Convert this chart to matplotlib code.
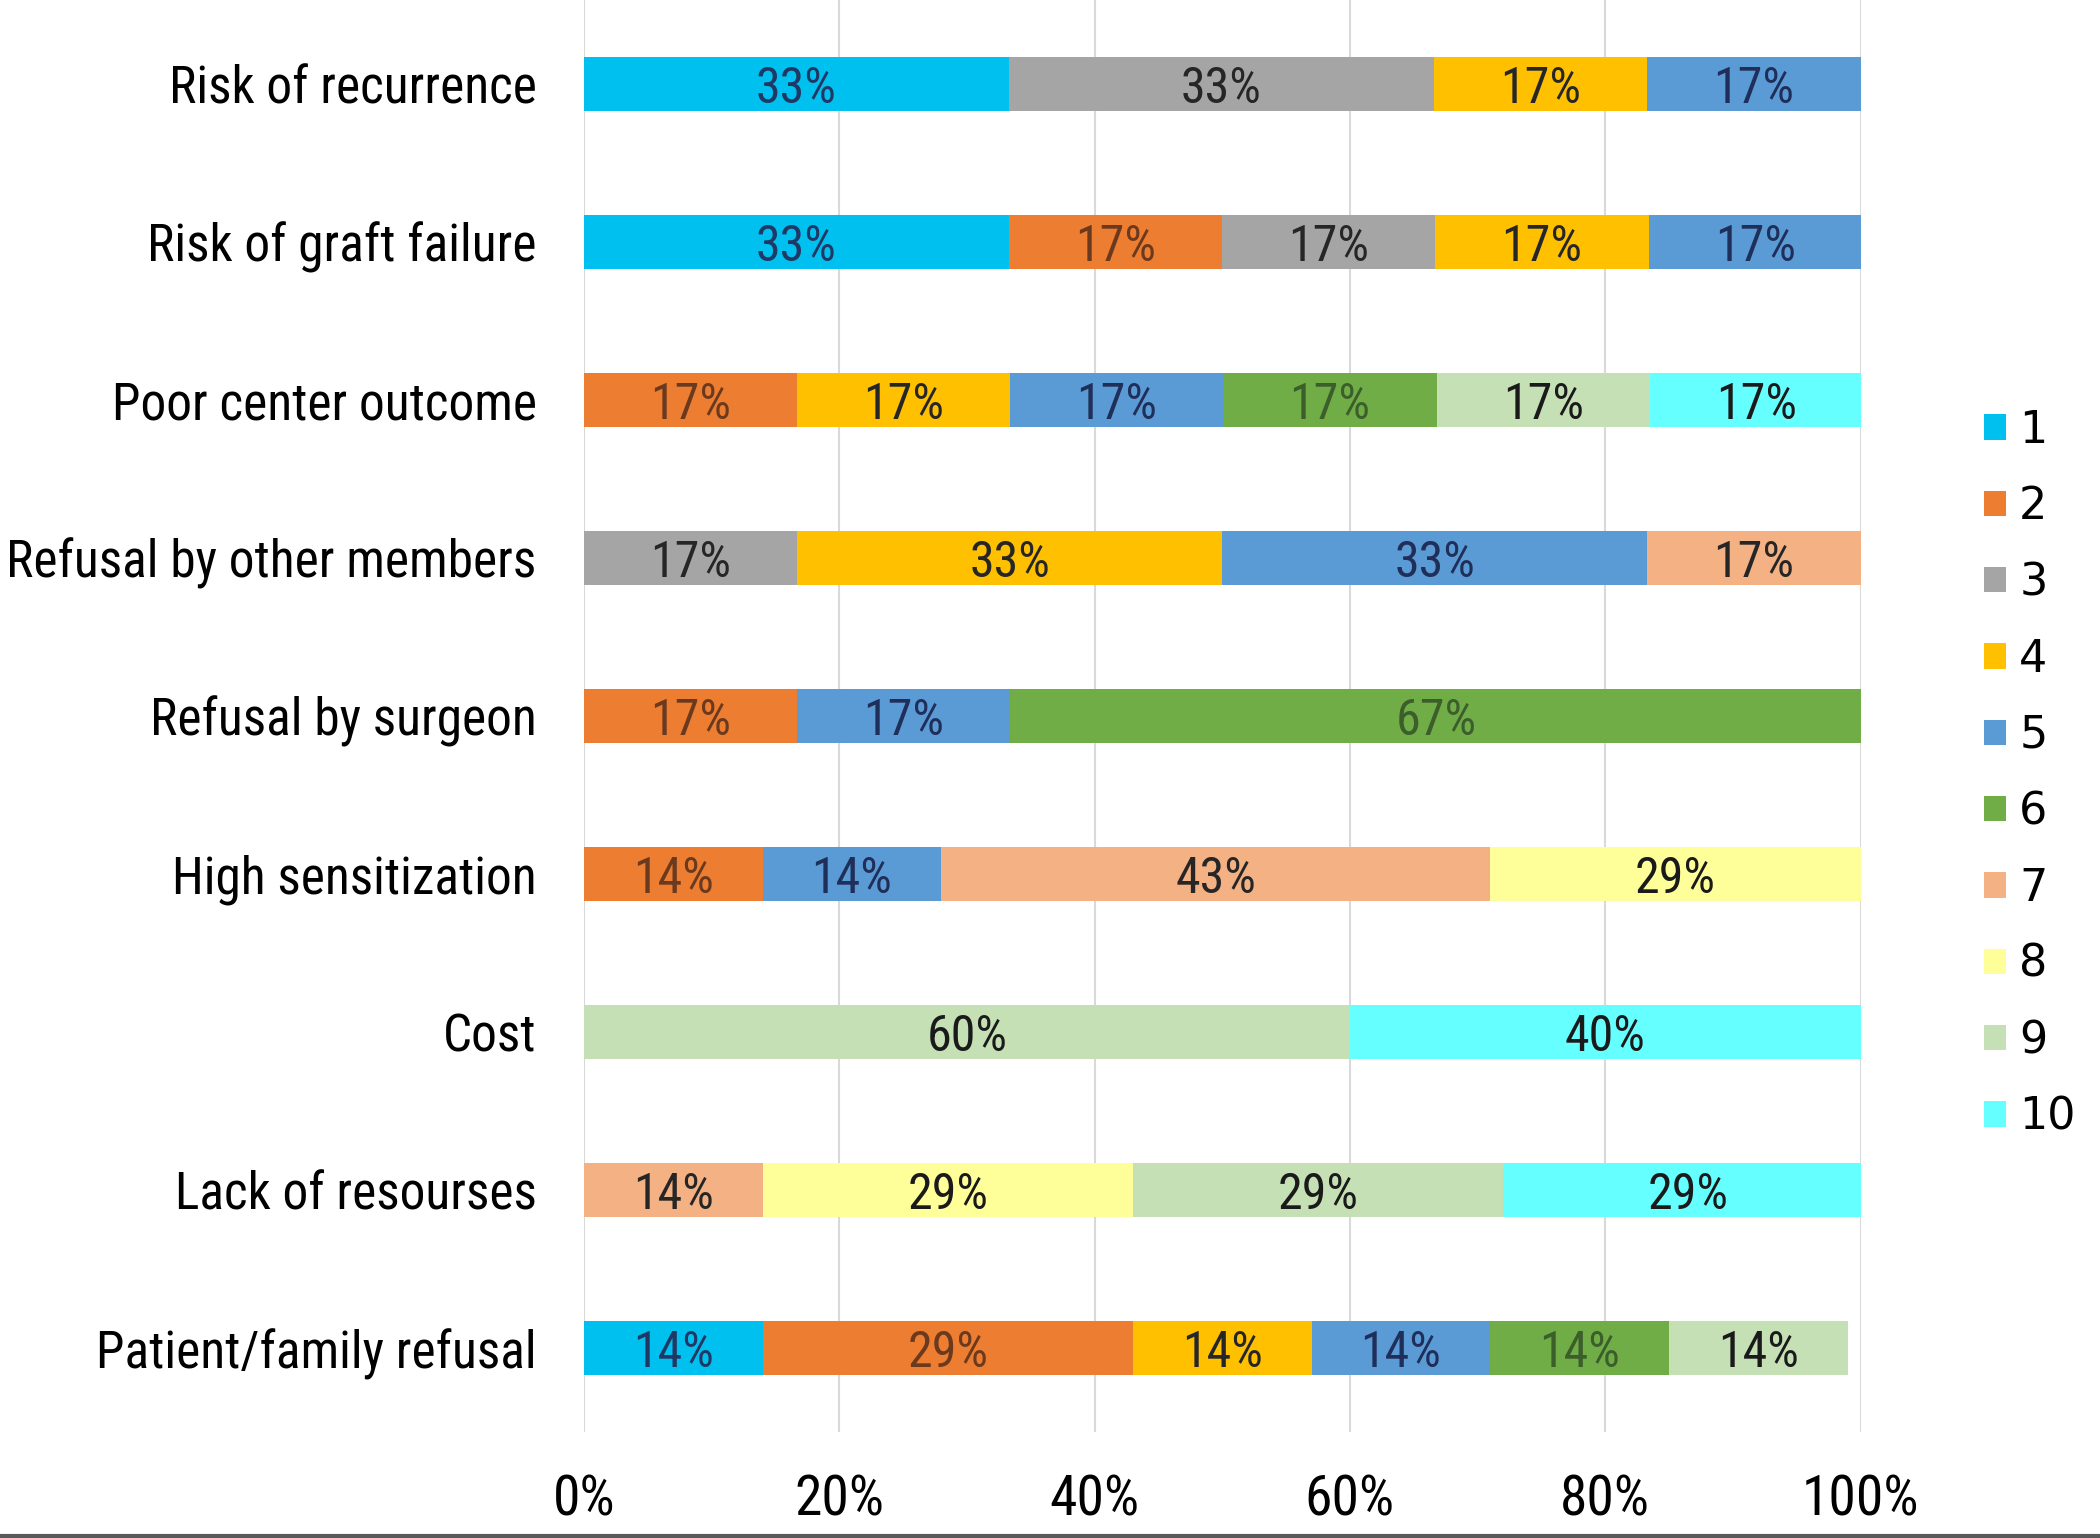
import matplotlib
matplotlib.use('Agg')
import matplotlib.pyplot as plt
from matplotlib import font_manager
from matplotlib.lines import Line2D
from matplotlib.patches import Patch

categories = ['Risk of recurrence', 'Risk of graft failure', 'Poor center outcome',
              'Refusal by other members', 'Refusal by surgeon', 'High sensitization',
              'Cost', 'Lack of resourses', 'Patient/family refusal']
levels = ['1', '2', '3', '4', '5', '6', '7', '8', '9', '10']

# percent share of each rank, per category (top to bottom)
s1 = [33.3, 33.3, 0, 0, 0, 0, 0, 0, 14]
s2 = [0, 16.7, 16.7, 0, 16.7, 14, 0, 0, 29]
s3 = [33.3, 16.7, 0, 16.7, 0, 0, 0, 0, 0]
s4 = [16.7, 16.7, 16.7, 33.3, 0, 0, 0, 0, 14]
s5 = [16.7, 16.7, 16.7, 33.3, 16.7, 14, 0, 0, 14]
s6 = [0, 0, 16.7, 0, 66.7, 0, 0, 0, 14]
s7 = [0, 0, 0, 16.7, 0, 43, 0, 14, 0]
s8 = [0, 0, 0, 0, 0, 29, 0, 29, 0]
s9 = [0, 0, 16.7, 0, 0, 0, 60, 29, 14]
s10 = [0, 0, 16.7, 0, 0, 0, 40, 29, 0]
series = [s1, s2, s3, s4, s5, s6, s7, s8, s9, s10]

colors = ['#00C0F0', '#ED7D31', '#A5A5A5', '#FFC000', '#5B9BD5',
          '#70AD47', '#F4B183', '#FFFF99', '#C5E0B4', '#66FFFF']
text_colors = ['#1F3864', '#6B3A1E', '#262626', '#262626', '#1F2F5A',
               '#3B5E2B', '#262626', '#1A1A1A', '#1A1A1A', '#1A1A1A']

# a narrow face is closest to the Calibri look of the original
names = set(f.name for f in font_manager.fontManager.ttflist)
narrow = 'DejaVu Sans'
for cand in ['Liberation Sans Narrow', 'Roboto Condensed', 'Open Sans Condensed']:
    if cand in names:
        narrow = cand
        break
fp = font_manager.FontProperties(family=narrow, stretch='condensed', size=37)
fp_tick = font_manager.FontProperties(family=narrow, stretch='condensed', size=40)
fp_lab = font_manager.FontProperties(family=narrow, stretch='condensed', size=36)

fig = plt.figure(figsize=(21, 15.38), dpi=100)
ax = fig.add_axes([0.278, 0.069, 0.608, 0.931])

ypos = list(range(len(categories)))
left = [0.0] * len(categories)
for k, vals in enumerate(series):
    ax.barh(ypos, vals, left=left, height=0.34, color=colors[k], zorder=2)
    for i, v in enumerate(vals):
        if v > 0:
            ax.text(left[i] + v / 2, i, '%d%%' % round(v), ha='center',
                    va='center_baseline', fontproperties=fp_lab,
                    color=text_colors[k], zorder=3)
    left = [a + b for a, b in zip(left, vals)]

ax.set_xlim(0, 100)
ax.set_ylim(len(categories) - 0.47, -0.53)
ax.set_xticks([0, 20, 40, 60, 80, 100])
ax.set_xticklabels(['0%', '20%', '40%', '60%', '80%', '100%'], fontproperties=fp_tick)
ax.set_yticks(ypos)
ax.set_yticklabels(categories, fontproperties=fp)
ax.tick_params(axis='both', length=0)
ax.tick_params(axis='x', pad=30)
ax.tick_params(axis='y', pad=34)
ax.grid(axis='x', color='#D9D9D9', linewidth=1.5, zorder=0)
for sp in ax.spines.values():
    sp.set_visible(False)

handles = [Patch(facecolor=c, edgecolor='none') for c in colors]
fig.legend(handles, levels, loc='center left', bbox_to_anchor=(0.934, 0.497),
           frameon=False, fontsize=32, handlelength=0.5, handleheight=0.5,
           handletextpad=0.3, labelspacing=0.75, borderpad=0)

fig.add_artist(Line2D([0, 1], [0.001, 0.001], color='#595959', linewidth=3,
                      transform=fig.transFigure))

fig.savefig('out.png', dpi=100)
